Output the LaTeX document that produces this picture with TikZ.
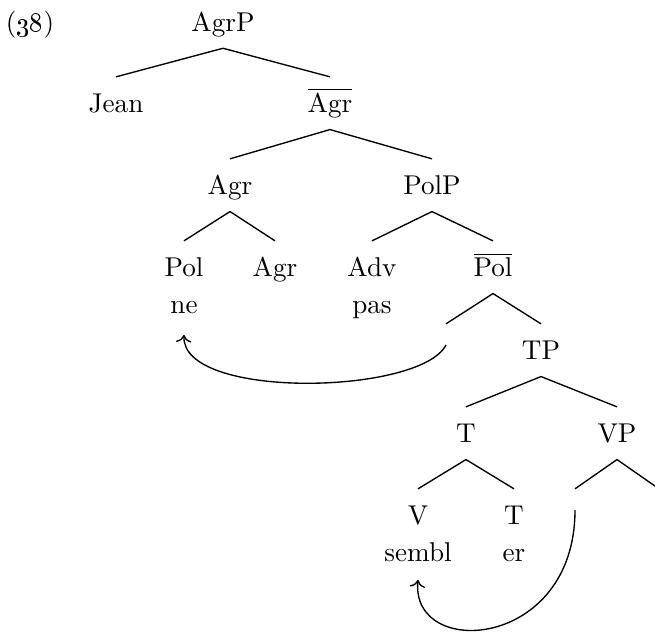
\documentclass[tikz,border=0pt]{standalone}
\usetikzlibrary{arrows.meta}
\tikzset{
  cat/.style ={anchor=base,inner sep=0pt},
  nil/.style ={cat,minimum size=0pt},
  mv/.style  ={->},
}
\newcommand{\barcat}[1]{$\overline{\mbox{#1}}$}
% branch from mother (below its label) to daughter (above its label)
\newcommand{\br}[2]{\draw ([yshift=-6.1pt]#1.base) -- ([yshift=13.3pt]#2.base);}

\begin{document}
\begin{tikzpicture}[x=0.368pt,y=-0.368pt,line width=0.5pt]
  \useasboundingbox (0,0) rectangle (655,632);
  \node[cat] (ex)     at (30,31.7) {(\oldstylenums{38})};
  \node[cat] (agrp)   at (223,31.7) {AgrP};
  \node[cat] (jean)   at (116,113) {Jean};
  \node[cat] (agrbar) at (330,113) {\barcat{Agr}};
  \node[cat] (agr)    at (230,195) {Agr};
  \node[cat] (polp)   at (432,195) {PolP};
  \node[cat] (pol)    at (184,277) {Pol};
  \node[cat] (agrh)   at (275,277) {Agr};
  \node[cat] (adv)    at (372,277) {Adv};
  \node[cat] (polbar) at (493,277) {\barcat{Pol}};
  \node[cat] (ne)     at (184,314) {ne};
  \node[cat] (pas)    at (372,314) {pas};
  \node[nil] (polnil) at (446,360) {};
  \node[cat] (tp)     at (541,360) {TP};
  \node[cat] (t)      at (466,443) {T};
  \node[cat] (vp)     at (617,443) {VP};
  \node[cat] (v)      at (418,525) {V};
  \node[cat] (th)     at (514,525) {T};
  \node[nil] (vpnil)  at (575,525) {};
  \node[nil] (vpcomp) at (659,525) {};
  \node[cat] (sembl)  at (418,562) {sembl};
  \node[cat] (er)     at (514,562) {er};
  % branches
  \br{agrp}{jean}   \br{agrp}{agrbar}
  \br{agrbar}{agr}  \br{agrbar}{polp}
  \br{agr}{pol}     \br{agr}{agrh}
  \br{polp}{adv}    \br{polp}{polbar}
  \br{polbar}{polnil} \br{polbar}{tp}
  \br{tp}{t}        \br{tp}{vp}
  \br{t}{v}         \br{t}{th}
  \br{vp}{vpnil}    \br{vp}{vpcomp}
  % head movement
  \draw[mv] ([yshift=5.5pt]polnil.base) .. controls +(-26,50) and +(-3,65)
            .. ([yshift=-7.7pt]ne.base);
  \draw[mv] ([yshift=5.5pt]vpnil.base) .. controls +(0,140) and +(-8,80)
            .. ([yshift=-6.6pt]sembl.base);
\end{tikzpicture}
\end{document}
